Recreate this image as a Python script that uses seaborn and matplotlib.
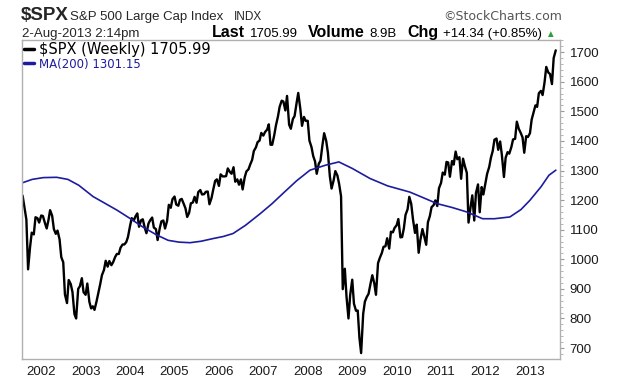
import pandas as pd
import matplotlib
matplotlib.use("Agg")
import matplotlib.pyplot as plt
import matplotlib.dates as mdates
from matplotlib.ticker import MultipleLocator
import seaborn as sns

# semi-monthly closes of $SPX (1st and 15th of each month)
spx_2001 = [1215, 1178, 1134, 966, 1040, 1090, 1084, 1142, 1139, 1124]
spx_2002 = [1148, 1146, 1122, 1104, 1131, 1166, 1147, 1102, 1086, 1097, 1067, 1007,
            990, 881, 852, 930, 916, 889, 815, 800, 900, 909, 936, 889]
spx_2003 = [880, 918, 856, 834, 841, 829, 858, 885, 916, 946, 964, 995,
            975, 994, 980, 990, 1008, 1018, 1018, 1039, 1050, 1050, 1058, 1075]
spx_2004 = [1112, 1139, 1131, 1145, 1155, 1110, 1132, 1135, 1107, 1088, 1121, 1132,
            1141, 1107, 1102, 1065, 1104, 1128, 1131, 1104, 1130, 1184, 1174, 1203]
spx_2005 = [1212, 1185, 1181, 1201, 1204, 1190, 1172, 1143, 1157, 1189, 1192, 1211,
            1191, 1227, 1234, 1219, 1220, 1228, 1229, 1186, 1207, 1235, 1265, 1270]
spx_2006 = [1248, 1287, 1280, 1280, 1281, 1307, 1295, 1289, 1311, 1262, 1270, 1252,
            1270, 1236, 1277, 1297, 1304, 1320, 1336, 1366, 1378, 1396, 1401, 1427]
spx_2007 = [1418, 1430, 1438, 1456, 1387, 1387, 1420, 1453, 1482, 1515, 1536, 1533,
            1503, 1552, 1455, 1441, 1474, 1484, 1527, 1562, 1509, 1451, 1481, 1468]
spx_2008 = [1468, 1401, 1379, 1349, 1331, 1289, 1323, 1333, 1386, 1426, 1400, 1360,
            1280, 1239, 1267, 1298, 1283, 1255, 1213, 899, 968, 873, 800, 879]
spx_2009 = [931, 850, 826, 827, 735, 683, 816, 857, 873, 883, 919, 946,
            919, 880, 987, 1004, 1021, 1042, 1044, 1071, 1036, 1093, 1091, 1106]
spx_2010 = [1115, 1136, 1074, 1075, 1104, 1150, 1169, 1211, 1187, 1136, 1089, 1117,
            1022, 1065, 1102, 1079, 1049, 1125, 1146, 1176, 1183, 1199, 1180, 1240]
spx_2011 = [1258, 1293, 1286, 1329, 1327, 1279, 1332, 1320, 1364, 1338, 1345, 1272,
            1340, 1316, 1292, 1124, 1177, 1216, 1131, 1224, 1253, 1159, 1244, 1219]
spx_2012 = [1258, 1289, 1312, 1343, 1366, 1404, 1408, 1370, 1398, 1353, 1278, 1343,
            1362, 1357, 1379, 1405, 1407, 1465, 1441, 1429, 1412, 1360, 1416, 1413]
spx_2013 = [1426, 1472, 1498, 1520, 1515, 1561, 1569, 1555, 1598, 1650, 1631, 1626,
            1592, 1680, 1705.99]

# 200-week moving average, read at points along the blue line
ma_dates = ["2001-07-27", "2001-10-19", "2002-01-19", "2002-05-08", "2002-08-08",
            "2002-11-06", "2003-03-03", "2003-06-14", "2003-09-16", "2004-01-01",
            "2004-04-16", "2004-08-08", "2004-11-10", "2005-02-06", "2005-05-08",
            "2005-08-08", "2005-11-14", "2006-02-06", "2006-04-27", "2006-08-08",
            "2006-12-06", "2007-03-14", "2007-06-10", "2007-10-01", "2008-01-19",
            "2008-05-27", "2008-09-13", "2009-01-01", "2009-05-27", "2009-10-19",
            "2010-04-20", "2010-08-08", "2010-11-30", "2011-04-02", "2011-07-31",
            "2011-12-09", "2012-03-14", "2012-07-20", "2012-10-19", "2012-12-31",
            "2013-04-02", "2013-06-06", "2013-08-02"]
ma_vals = [1258, 1270, 1276, 1277, 1270, 1250, 1212, 1188, 1166, 1138,
           1109, 1082, 1064, 1058, 1056, 1061, 1070, 1077, 1087, 1115,
           1154, 1188, 1222, 1265, 1301, 1318, 1329, 1307, 1273, 1248,
           1227, 1208, 1188, 1175, 1160, 1137, 1137, 1143, 1168, 1199,
           1245, 1284, 1301.15]

y_ticks = [700, 800, 900, 1000, 1100, 1200, 1300, 1400, 1500, 1600, 1700]

spx = (spx_2001 + spx_2002 + spx_2003 + spx_2004 + spx_2005 + spx_2006 + spx_2007
       + spx_2008 + spx_2009 + spx_2010 + spx_2011 + spx_2012 + spx_2013)
dates = pd.date_range("2001-08-01", periods=len(spx), freq="SMS")
price = pd.DataFrame({"date": dates, "close": spx})
ma = pd.DataFrame({"date": pd.to_datetime(ma_dates), "ma": ma_vals})

sns.set_style("white")
plt.rcParams["font.family"] = ["Liberation Sans", "DejaVu Sans"]

W, H = 620, 383
fig = plt.figure(figsize=(W / 100, H / 100), dpi=100)
ax = fig.add_axes([22 / W, 1 - 359 / H, (560 - 22) / W, (359 - 40) / H])

sns.lineplot(data=price, x="date", y="close", color="black", linewidth=1.7,
             ax=ax, label="$SPX (Weekly) 1705.99")
sns.lineplot(data=ma, x="date", y="ma", color="#1c1c9e", linewidth=1.2,
             ax=ax, label="MA(200) 1301.15")

ax.set_xlim(pd.Timestamp("2001-07-27"), pd.Timestamp("2013-09-05"))
ax.set_ylim(663, 1741)
ax.set_xlabel("")
ax.set_ylabel("")

ax.xaxis.set_major_locator(mdates.YearLocator())
ax.xaxis.set_major_formatter(mdates.DateFormatter("%Y"))
ax.yaxis.tick_right()
ax.set_yticks(y_ticks)
ax.yaxis.set_minor_locator(MultipleLocator(20))
ax.tick_params(axis="both", which="major", direction="out", length=3, width=0.8,
               color="#999999", labelsize=9.5, labelcolor="#1a1a1a", pad=2)
ax.tick_params(axis="y", which="minor", direction="out", length=2, width=0.6,
               color="#aaaaaa", right=True, left=False)
ax.tick_params(axis="y", which="major", pad=4)
for s in ax.spines.values():
    s.set_color("#b0b0b0")
    s.set_linewidth(1.0)

leg = ax.legend(loc="upper left", bbox_to_anchor=(0.0, 1.0), frameon=False,
                borderaxespad=0.0, borderpad=0.15, handlelength=0.7,
                handletextpad=0.3, labelspacing=0.05,
                prop={"family": "DejaVu Sans", "size": 10.5},
                labelcolor=["black", "#1c1c9e"])
for line in leg.get_lines():
    line.set_linewidth(2.5)
leg.get_texts()[1].set_fontsize(8.5)

# header
def ftext(x, y, s, **kw):
    return fig.text(x / W, 1 - y / H, s, va="baseline", **kw)

ftext(21, 20, "$SPX", fontsize=13.5, fontweight="bold")
ftext(70, 20, "S&P 500 Large Cap Index", fontsize=9.5)
ftext(234, 20, "INDX", fontsize=8.5)
ftext(562, 20, "\u00a9StockCharts.com", fontsize=9, ha="right", color="#555555",
      family="DejaVu Sans")
ftext(22, 37, "2-Aug-2013 2:14pm", fontsize=9.5)

pieces = [("Last", "bold", 11.5, "black", 5), ("1705.99", "normal", 9.5, "black", 10),
          ("Volume", "bold", 11.5, "black", 5), ("8.9B", "normal", 9.5, "black", 10),
          ("Chg", "bold", 11.5, "black", 5), ("+14.34 (+0.85%)", "normal", 9.5, "black", 3),
          ("\u25b2", "normal", 7, "#2e9e3e", 0)]
renderer = fig.canvas.get_renderer()
xpos = 212
for s, wt, sz, col, gap in pieces:
    t = ftext(xpos, 37, s, fontsize=sz, fontweight=wt, color=col,
              family=["Liberation Sans", "DejaVu Sans"])
    xpos += t.get_window_extent(renderer).width + gap

fig.savefig("out.png", dpi=100)
